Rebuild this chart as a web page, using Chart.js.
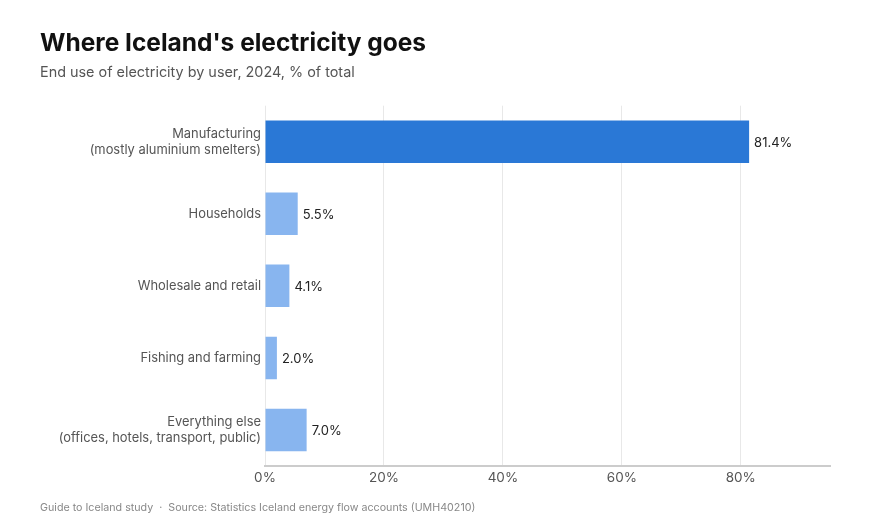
<!DOCTYPE html>
<html>
<head>
<meta charset="utf-8">
<script src="https://cdn.jsdelivr.net/npm/chart.js@4/dist/chart.umd.min.js"></script>
<style>
  html, body { margin: 0; padding: 0; background: #fff; }
  #wrap { width: 883px; height: 530px; position: relative; }
</style>
</head>
<body>
<div id="wrap"><canvas id="useChart"></canvas></div>
<script>
"use strict";

// data
var categories = [
  ["Manufacturing", "(mostly aluminium smelters)"],
  "Households",
  "Wholesale and retail",
  "Fishing and farming",
  ["Everything else", "(offices, hotels, transport, public)"]
];
var shares = [81.4, 5.5, 4.1, 2.0, 7.0];
var tickValues = [0, 20, 40, 60, 80];

var darkBlue = "#2a78d6";
var lightBlue = "#88b5ef";
var barColors = shares.map(function (v, i) { return i === 0 ? darkBlue : lightBlue; });

var fontFam = "Inter, 'Noto Sans', sans-serif";

// values printed at the end of each bar
var valueLabels = {
  id: "valueLabels",
  afterDatasetsDraw: function (chart) {
    var ctx = chart.ctx;
    var meta = chart.getDatasetMeta(0);
    ctx.save();
    ctx.font = "13px " + fontFam;
    ctx.fillStyle = "#222";
    ctx.textAlign = "left";
    ctx.textBaseline = "middle";
    meta.data.forEach(function (bar, i) {
      ctx.fillText(shares[i].toFixed(1) + "%", bar.x + 5, bar.y + 1);
    });
    ctx.restore();
  }
};

// source line at the bottom
var footerLine = {
  id: "footerLine",
  afterDraw: function (chart) {
    var ctx = chart.ctx;
    ctx.save();
    ctx.font = "10.7px " + fontFam;
    ctx.fillStyle = "#888";
    ctx.textAlign = "left";
    ctx.textBaseline = "middle";
    ctx.fillText("Guide to Iceland study  \u00b7  Source: Statistics Iceland energy flow accounts (UMH40210)", 40, 508);
    ctx.restore();
  }
};

var ctx = document.getElementById("useChart");
var myChart = new Chart(ctx, {
  type: "bar",
  data: {
    labels: categories,
    datasets: [{
      data: shares,
      backgroundColor: barColors,
      hoverBackgroundColor: barColors,
      barPercentage: 0.59,
      categoryPercentage: 1.0,
      borderWidth: 0
    }]
  },
  options: {
    indexAxis: "y",
    responsive: true,
    maintainAspectRatio: false,
    animation: false,
    events: [],
    layout: { padding: { left: 40, right: 53, top: 0, bottom: 34 } },
    plugins: {
      legend: { display: false },
      tooltip: { enabled: false },
      title: {
        display: true,
        text: "Where Iceland's electricity goes",
        align: "start",
        color: "#111",
        font: { family: fontFam, size: 24.5, weight: "bold", lineHeight: 1.2 },
        padding: { top: 29, bottom: 6 }
      },
      subtitle: {
        display: true,
        text: "End use of electricity by user, 2024, % of total",
        align: "start",
        color: "#555",
        font: { family: fontFam, size: 14.4, lineHeight: 1.2 },
        padding: { top: 0, bottom: 24 }
      }
    },
    scales: {
      x: {
        min: 0,
        max: 95,
        afterBuildTicks: function (scale) {
          scale.ticks = tickValues.map(function (v) { return { value: v }; });
        },
        afterFit: function (scale) { scale.height = 30; },
        grid: { color: "#e8e8e8", drawTicks: false },
        border: { color: "#cccccc", width: 2 },
        ticks: {
          color: "#555",
          padding: 4,
          font: { family: fontFam, size: 13.5 },
          callback: function (v) { return v + "%"; }
        }
      },
      y: {
        afterFit: function (scale) { scale.width = 225; },
        grid: { display: false, drawTicks: false },
        border: { display: false },
        ticks: {
          color: "#555",
          padding: 4,
          font: { family: fontFam, size: 12.9, lineHeight: 1.24 }
        }
      }
    }
  },
  plugins: [valueLabels, footerLine]
});
</script>
</body>
</html>
